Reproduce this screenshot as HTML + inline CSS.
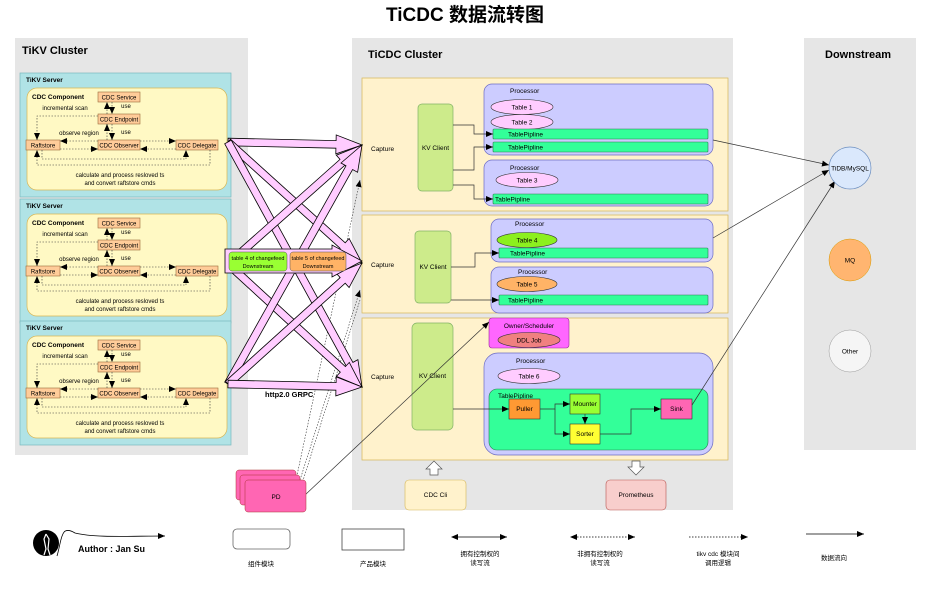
<!DOCTYPE html>
<html><head><meta charset="utf-8"><style>
body{margin:0;background:#fff;}
svg{display:block;font-family:"Liberation Sans","Noto Sans CJK SC",sans-serif;}
</style></head><body>
<svg id="s" width="931" height="589" viewBox="0 0 931 589" xmlns="http://www.w3.org/2000/svg">
<defs>
<marker id="ah" markerWidth="8" markerHeight="8" refX="7" refY="4" orient="auto" markerUnits="userSpaceOnUse"><path d="M0,1 L7,4 L0,7 z" fill="#000"/></marker>
<marker id="as" markerWidth="8" markerHeight="8" refX="1" refY="4" orient="auto" markerUnits="userSpaceOnUse"><path d="M7,1 L0,4 L7,7 z" fill="#000"/></marker>
</defs>
<text x="465" y="21" font-size="19" font-weight="bold" text-anchor="middle">TiCDC 数据流转图</text>

<rect x="15" y="38" width="233" height="417" fill="#e6e6e6"/>
<text x="22" y="54" font-size="11" font-weight="bold">TiKV Cluster</text>
<rect x="352" y="38" width="381" height="472" fill="#e6e6e6"/>
<text x="368" y="58" font-size="11" font-weight="bold">TiCDC Cluster</text>
<rect x="804" y="38" width="112" height="412" fill="#e6e6e6"/>
<text x="825" y="58" font-size="11" font-weight="bold">Downstream</text>

<g id="tikv">
<rect x="20" y="73" width="211" height="124" fill="#b0e3e6" stroke="#79b8bd" stroke-width="0.7"/>
<text x="26" y="82" font-size="6.5" font-weight="bold">TiKV Server</text>
<rect x="27" y="88" width="200" height="102" rx="10" fill="#fff9c4" stroke="#d6b656" stroke-width="0.7"/>
<text x="32" y="99" font-size="6.5" font-weight="bold">CDC Component</text>
<g font-size="6" text-anchor="middle">
<rect x="98" y="92" width="42" height="10" fill="#ffcc99" stroke="#9b6a3b" stroke-width="0.6"/><text x="119" y="99.5">CDC Service</text>
<rect x="98" y="114" width="42" height="10" fill="#ffcc99" stroke="#9b6a3b" stroke-width="0.6"/><text x="119" y="121.5">CDC Endpoint</text>
<rect x="26" y="140" width="34" height="10" fill="#ffcc99" stroke="#9b6a3b" stroke-width="0.6"/><text x="43" y="147.5">Raftstore</text>
<rect x="98" y="140" width="42" height="10" fill="#ffcc99" stroke="#9b6a3b" stroke-width="0.6"/><text x="119" y="147.5">CDC Observer</text>
<rect x="176" y="140" width="42" height="10" fill="#ffcc99" stroke="#9b6a3b" stroke-width="0.6"/><text x="197" y="147.5">CDC Delegate</text>
<text x="65" y="110">incremental scan</text>
<text x="126" y="108">use</text>
<text x="79" y="135">observe region</text>
<text x="126" y="134">use</text>
<text x="120" y="177">calculate and process resloved ts</text>
<text x="120" y="185">and convert raftstore cmds</text>
</g>
<g fill="none" stroke="#333" stroke-width="0.6" stroke-dasharray="1.5,1.5">
<path d="M107,114 V102" marker-end="url(#ah)"/>
<path d="M112,102 V114" marker-end="url(#ah)"/>
<path d="M98,116 H37 V140" marker-end="url(#ah)"/>
<path d="M107,140 V124" marker-end="url(#ah)"/>
<path d="M112,124 V140" marker-end="url(#ah)"/>
<path d="M98,141 H60" marker-end="url(#ah)"/>
<path d="M60,149 H98" marker-end="url(#ah)"/>
<path d="M140,141 H176" marker-end="url(#ah)"/>
<path d="M176,149 H140" marker-end="url(#ah)"/>
<path d="M42,150 V159 H186 V150" marker-end="url(#ah)"/>
<path d="M210,150 V165 H37 V150" marker-end="url(#ah)"/>
</g>
</g>
<use href="#tikv" y="126"/>
<use href="#tikv" y="248"/>

<rect x="362" y="78" width="366" height="133" fill="#fff2cc" stroke="#d6b656" stroke-width="0.7"/>
<rect x="362" y="215" width="366" height="98" fill="#fff2cc" stroke="#d6b656" stroke-width="0.7"/>
<rect x="362" y="318" width="366" height="142" fill="#fff2cc" stroke="#d6b656" stroke-width="0.7"/>
<g font-size="6.5">
<text x="371" y="151">Capture</text><text x="371" y="267">Capture</text><text x="371" y="379">Capture</text>
</g>
<g fill="#cdeb8b" stroke="#82b366" stroke-width="0.7">
<rect x="418" y="104" width="35" height="87" rx="4"/>
<rect x="415" y="231" width="36" height="72" rx="4"/>
<rect x="412" y="323" width="41" height="107" rx="5"/>
</g>
<g font-size="6.5" text-anchor="middle">
<text x="435.5" y="150">KV Client</text><text x="433" y="269">KV Client</text><text x="432.5" y="378">KV Client</text>
</g>
<g fill="#ccccff" stroke="#6c6cc4" stroke-width="0.7">
<rect x="484" y="84" width="229" height="71" rx="8"/>
<rect x="484" y="160" width="229" height="46" rx="8"/>
<rect x="491" y="219" width="222" height="43" rx="8"/>
<rect x="491" y="267" width="222" height="46" rx="8"/>
<rect x="484" y="353" width="229" height="102" rx="14"/>
</g>
<rect x="489" y="318" width="80" height="30" rx="3" fill="#ff66ff" stroke="#9b2c9b" stroke-width="0.6"/>
<text x="529" y="328" font-size="6.5" text-anchor="middle">Owner/Scheduler</text>
<g font-size="6.5">
<text x="510" y="93">Processor</text><text x="510" y="170">Processor</text>
<text x="515" y="226">Processor</text><text x="518" y="274">Processor</text>
<text x="516" y="363">Processor</text>
</g>
<g stroke="#333" stroke-width="0.6">
<ellipse cx="522" cy="107" rx="31" ry="7.5" fill="#ffccff"/>
<ellipse cx="522" cy="122" rx="31" ry="7.5" fill="#ffccff"/>
<ellipse cx="527" cy="180" rx="31" ry="7.5" fill="#ffccff"/>
<ellipse cx="527" cy="240" rx="30" ry="7.5" fill="#8cf01e"/>
<ellipse cx="527" cy="284" rx="30" ry="7.5" fill="#ffb366"/>
<ellipse cx="529" cy="376" rx="31" ry="7.5" fill="#ffccff"/>
<ellipse cx="529" cy="340" rx="31" ry="7.5" fill="#f08080"/>
</g>
<g font-size="6.5" text-anchor="middle">
<text x="522" y="109.5">Table 1</text><text x="522" y="124.5">Table 2</text><text x="527" y="182.5">Table 3</text>
<text x="527" y="242.5">Table 4</text><text x="527" y="286.5">Table 5</text><text x="529" y="378.5">Table 6</text>
<text x="529" y="342.5">DDL Job</text>
</g>
<g fill="#33ff99" stroke="#2d7a4f" stroke-width="0.6">
<rect x="493" y="129" width="215" height="10" rx="1"/>
<rect x="493" y="142" width="215" height="10" rx="1"/>
<rect x="493" y="194" width="215" height="10" rx="1"/>
<rect x="499" y="248" width="209" height="10" rx="1"/>
<rect x="499" y="295" width="209" height="10" rx="1"/>
<rect x="489" y="389" width="219" height="61" rx="8"/>
</g>
<g font-size="6.5">
<text x="508" y="136.5">TablePipline</text><text x="508" y="149.5">TablePipline</text><text x="495" y="201.5">TablePipline</text>
<text x="510" y="255.5">TablePipline</text><text x="508" y="302.5">TablePipline</text><text x="498" y="398">TablePipline</text>
</g>
<g stroke="#333" stroke-width="0.6">
<rect x="509" y="399" width="31" height="20" fill="#ff9933"/>
<rect x="570" y="394" width="30" height="20" fill="#99ff33"/>
<rect x="570" y="424" width="30" height="20" fill="#ffff33"/>
<rect x="661" y="399" width="31" height="20" fill="#ff66b3"/>
</g>
<g font-size="6.5" text-anchor="middle">
<text x="524.5" y="411">Puller</text><text x="585" y="406">Mounter</text><text x="585" y="436">Sorter</text><text x="676.5" y="411">Sink</text>
</g>
<g fill="none" stroke="#333" stroke-width="0.7" marker-end="url(#ah)">
<path d="M453,125 H474 V134 H493"/>
<path d="M453,170 H474 V147 H493"/>
<path d="M453,185 H474 V199 H493"/>
<path d="M451,267 H475 V253 H499"/>
<path d="M451,300 H499"/>
<path d="M453,409 H509"/>
<path d="M540,409 H555 V404 H570"/>
<path d="M555,409 V434 H570"/>
<path d="M585,414 V424"/>
<path d="M600,434 H631 V409 H661"/>
<path d="M713,140 L829,165"/>
<path d="M713,238 L829,170"/>
<path d="M692,405 L835,181"/>
<path d="M305,495 L489,322"/>
</g>
<g fill="none" stroke="#333" stroke-width="0.6" stroke-dasharray="1.5,1.5" marker-end="url(#ah)">
<path d="M296,480 L360,180"/>
<path d="M300,480 L360,290"/>
<path d="M360,300 L300,490" />
</g>

<circle cx="850" cy="168" r="21" fill="#dae8fc" stroke="#6c8ebf" stroke-width="0.7"/>
<circle cx="850" cy="260" r="21" fill="#ffb570" stroke="#d79b00" stroke-width="0.5"/>
<circle cx="850" cy="351" r="21" fill="#f5f5f5" stroke="#999" stroke-width="0.5"/>
<g font-size="6.5" text-anchor="middle"><text x="850" y="170.5">TiDB/MySQL</text><text x="850" y="262.5">MQ</text><text x="850" y="353.5">Other</text></g>

<rect x="405" y="480" width="61" height="30" rx="4" fill="#fff2cc" stroke="#d6b656" stroke-width="0.6"/>
<text x="435.5" y="497" font-size="6.5" text-anchor="middle">CDC Cli</text>
<rect x="606" y="480" width="60" height="30" rx="4" fill="#f8cecc" stroke="#b85450" stroke-width="0.6"/>
<text x="636" y="497" font-size="6.5" text-anchor="middle">Prometheus</text>
<path d="M434,461 L442,469 L438,469 L438,475 L430,475 L430,469 L426,469 z" fill="#fff" stroke="#555" stroke-width="0.7"/>
<path d="M632,461 L640,461 L640,467 L644,467 L636,475 L628,467 L632,467 z" fill="#fff" stroke="#555" stroke-width="0.7"/>

<g fill="#ff66b3" stroke="#a33" stroke-width="0.5">
<rect x="236" y="470" width="60" height="30" rx="3"/>
<rect x="240" y="475" width="60" height="30" rx="3"/>
<rect x="245" y="480" width="61" height="32" rx="3"/>
</g>
<text x="276" y="499" font-size="6.5" text-anchor="middle">PD</text>

<g id="arrows" stroke="#000" stroke-width="0.8" fill="#ffccff"></g>
<text x="265" y="397" font-size="7.5" font-weight="bold">http2.0 GRPC</text>

<circle cx="46" cy="543" r="13" fill="#000"/>
<path d="M46,534 l-2,5 l2,10 l-2,6 M46,534 l3,5 l-1,10 l2,6" stroke="#fff" stroke-width="1.2" fill="none"/>
<path d="M57,556 C62,540 60,524 75,533 C95,538 130,536 165,536" fill="none" stroke="#000" stroke-width="0.8" marker-end="url(#ah)"/>
<text x="78" y="552" font-size="9" font-weight="bold">Author : Jan Su</text>
<rect x="233" y="529" width="57" height="20" rx="4" fill="#fff" stroke="#666" stroke-width="0.8"/>
<rect x="342" y="529" width="62" height="21" fill="#fff" stroke="#444" stroke-width="0.8"/>
<g stroke="#000" stroke-width="0.7" fill="none">
<path d="M452,537 H507" marker-end="url(#ah)" marker-start="url(#as)"/>
<path d="M571,537 H635" stroke-dasharray="1.5,1.5" marker-end="url(#ah)" marker-start="url(#as)"/>
<path d="M689,537 H748" stroke-dasharray="1.5,1.5" marker-end="url(#ah)"/>
<path d="M806,534 H864" marker-end="url(#ah)"/>
</g>
<g font-size="6.5" text-anchor="middle">
<text x="261" y="566">组件模块</text><text x="373" y="566">产品模块</text>
<text x="480" y="556">拥有控制权的</text><text x="480" y="565">读写流</text>
<text x="600" y="556">非拥有控制权的</text><text x="600" y="565">读写流</text>
<text x="718" y="556">tikv cdc 模块间</text><text x="718" y="565">调用逻辑</text>
<text x="834" y="560">数据流向</text>
</g>
<script>
(function(){
var g=document.getElementById('arrows');var ns='http://www.w3.org/2000/svg';
function fat(x1,y1,x2,y2,sw,hw,hl){var dx=x2-x1,dy=y2-y1,L=Math.sqrt(dx*dx+dy*dy),ux=dx/L,uy=dy/L,px=-uy,py=ux;
var bx=x2-ux*hl,by=y2-uy*hl;var pts=[[x1+px*sw,y1+py*sw],[bx+px*sw,by+py*sw],[bx+px*hw,by+py*hw],[x2,y2],[bx-px*hw,by-py*hw],[bx-px*sw,by-py*sw],[x1-px*sw,y1-py*sw]];
var p=document.createElementNS(ns,'polygon');p.setAttribute('points',pts.map(function(a){return a[0].toFixed(1)+','+a[1].toFixed(1)}).join(' '));g.appendChild(p);}
var S=[[228,142],[228,264],[228,384]],T=[[362,145],[362,263],[362,387]];
for(var i=0;i<3;i++)for(var j=0;j<3;j++){if(i==1&&j==1)continue;fat(S[i][0],S[i][1],T[j][0],T[j][1],3.8,9.5,26);}
fat(225,261,362,261,12,16,30);
var r=function(x,y,w,h,f){var e=document.createElementNS(ns,'rect');e.setAttribute('x',x);e.setAttribute('y',y);e.setAttribute('width',w);e.setAttribute('height',h);e.setAttribute('rx',3);e.setAttribute('fill',f);e.setAttribute('stroke','#555');e.setAttribute('stroke-width','0.5');g.appendChild(e);}
r(229,252,58,19,'#99ff33');r(290,252,56,19,'#ffb366');
var t=function(x,y,s){var e=document.createElementNS(ns,'text');e.setAttribute('x',x);e.setAttribute('y',y);e.setAttribute('font-size','5.5');e.setAttribute('text-anchor','middle');e.setAttribute('fill','#000');e.setAttribute('stroke','none');e.textContent=s;g.appendChild(e);};
t(258,260,'table 4 of changefeed');t(258,268,'Downstream');t(318,260,'table 5 of changefeed');t(318,268,'Downstream');
})();
</script>
</svg>
</body></html>
